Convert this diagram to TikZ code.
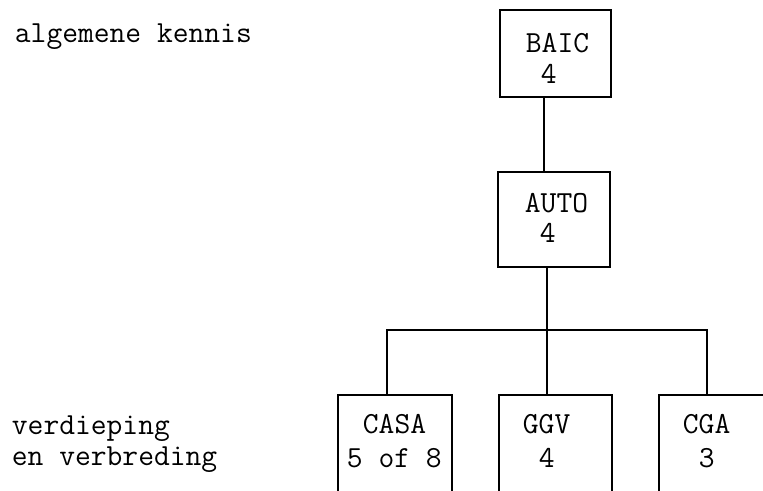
\documentclass[tikz,border=0pt]{standalone}
\usepackage{fontspec}
\setmonofont{Latin Modern Mono}
\begin{document}
\begin{tikzpicture}[x=0.75pt,y=-0.75pt,
  line width=1.4pt,
  boxnode/.style={draw,rectangle,inner sep=0pt,line width=1.4pt},
  txt/.style={anchor=base west,inner sep=0pt,font=\fontsize{23}{26}\ttfamily},
  con/.style={line width=1.4pt}]
\useasboundingbox (0,0) rectangle (763,490);
\clip (0,0) rectangle (763,490);
% left labels
\node[txt] (l1) at (14,42) {algemene kennis};
\node[txt] (l2) at (11,434) {verdieping};
\node[txt] (l3) at (11,465) {en verbreding};
% top boxes
\node[boxnode,minimum width=111pt*0.75,minimum height=87pt*0.75] (baic) at (555.5,53.5) {};
\node[boxnode,minimum width=112pt*0.75,minimum height=95pt*0.75] (auto) at (554,219.5) {};
\node[txt] (t1) at (525,52) {BAIC};
\node[txt] (t2) at (540,83) {4};
\node[txt] (t3) at (524,212) {AUTO};
\node[txt] (t4) at (539,242) {4};
% bottom boxes (open at the bottom)
\node[boxnode,minimum width=114pt*0.75,minimum height=130pt*0.75] (casa) at (395,460) {};
\node[boxnode,minimum width=113pt*0.75,minimum height=130pt*0.75] (ggv) at (555.5,460) {};
\node[boxnode,minimum width=140pt*0.75,minimum height=130pt*0.75] (cga) at (729,460) {};
\node[txt] (t5) at (362,433) {CASA};
\node[txt] (t6) at (346,467) {5 of 8};
\node[txt] (t7) at (522,433) {GGV};
\node[txt] (t8) at (538,467) {4};
\node[txt] (t9) at (682,433) {CGA};
\node[txt] (t10) at (698,467) {3};
% connectors
\coordinate (bar) at (547,330);
\draw[con] (baic.south -| 544,0) -- (auto.north -| 544,0);
\draw[con] (auto.south -| bar) -- (bar);
\draw[con] (casa.north -| 387,0) |- (bar) -| (cga.north -| 707,0);
\draw[con] (bar) -- (ggv.north -| bar);
\end{tikzpicture}
\end{document}
